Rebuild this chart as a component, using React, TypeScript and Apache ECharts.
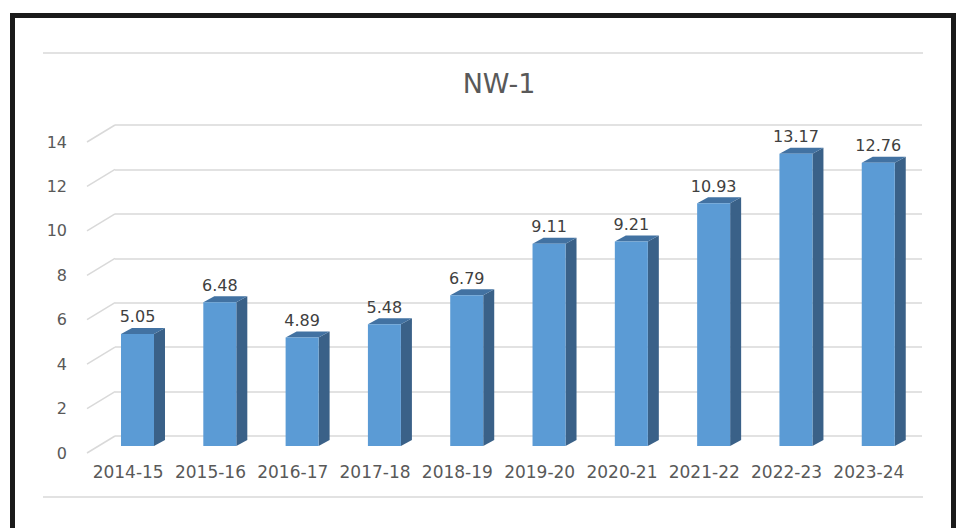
import React, { useEffect, useRef } from "react";
import * as echarts from "echarts";

const chartTitle = "NW-1";
const categories = [
  "2014-15",
  "2015-16",
  "2016-17",
  "2017-18",
  "2018-19",
  "2019-20",
  "2020-21",
  "2021-22",
  "2022-23",
  "2023-24",
];
const values = [5.05, 6.48, 4.89, 5.48, 6.79, 9.11, 9.21, 10.93, 13.17, 12.76];
const yTicks = [0, 2, 4, 6, 8, 10, 12, 14];

export default function App() {
  const ref = useRef<HTMLDivElement>(null);

  useEffect(() => {
    if (!ref.current) return;
    const chart = echarts.init(ref.current, null, { renderer: "svg" });
    const font = "'DejaVu Sans', 'Open Sans', sans-serif";
    const DX = 11;
    const DY = 6;
    const BAR_W = 33;
    const gridColor = "#d9d9d9";

    chart.setOption({
      animation: false,
      backgroundColor: "#ffffff",
      graphic: [
        {
          type: "rect",
          shape: { x: 12.5, y: 15.5, width: 941, height: 600 },
          style: { fill: "none", stroke: "#1a1a1a", lineWidth: 5 },
          silent: true,
          z: 100,
        },
        {
          type: "line",
          shape: { x1: 43, y1: 53, x2: 923, y2: 53 },
          style: { stroke: gridColor, lineWidth: 1.5 },
          silent: true,
        },
        {
          type: "line",
          shape: { x1: 43, y1: 497, x2: 923, y2: 497 },
          style: { stroke: gridColor, lineWidth: 1.5 },
          silent: true,
        },
        {
          type: "text",
          style: {
            text: chartTitle,
            x: 499,
            y: 83,
            align: "center",
            verticalAlign: "middle",
            fontSize: 27,
            fontFamily: font,
            fill: "#595959",
          },
          silent: true,
        },
      ],
      grid: [
        { left: 115, right: 36, top: 125, bottom: 92 },
        { left: 96.35, right: 38.6, top: 135.2, bottom: 82 },
        { left: 87, right: 48, top: 142, bottom: 75 },
      ],
      xAxis: [
        { gridIndex: 0, type: "category", data: categories, show: false },
        { gridIndex: 1, type: "category", data: categories, show: false },
        {
          gridIndex: 2,
          type: "category",
          data: categories,
          axisLine: { show: false },
          axisTick: { show: false },
          splitLine: { show: false },
          axisLabel: {
            margin: 10,
            fontSize: 17,
            color: "#595959",
            fontFamily: font,
            interval: 0,
          },
        },
      ],
      yAxis: [
        {
          gridIndex: 0,
          type: "value",
          min: 0,
          max: 14,
          interval: 2,
          axisLabel: { show: false },
          axisLine: { show: false },
          axisTick: { show: false },
          splitLine: { show: true, lineStyle: { color: gridColor, width: 1.5 } },
        },
        {
          gridIndex: 1,
          type: "value",
          min: 0,
          max: 14,
          interval: 2,
          show: false,
          splitLine: { show: false },
        },
        {
          gridIndex: 2,
          type: "value",
          min: 0,
          max: 14,
          interval: 2,
          axisLine: { show: false },
          axisTick: { show: false },
          splitLine: { show: false },
          axisLabel: {
            margin: 20,
            fontSize: 16,
            color: "#595959",
            fontFamily: font,
          },
        },
      ],
      series: [
        {
          type: "custom",
          xAxisIndex: 0,
          yAxisIndex: 0,
          silent: true,
          data: yTicks.map((t) => [0, t]),
          renderItem: (params: any, api: any) => {
            const p = api.coord([0, api.value(1)]);
            const x = params.coordSys.x;
            return {
              type: "line",
              shape: { x1: x, y1: p[1], x2: x - 28, y2: p[1] + 17 },
              style: { stroke: gridColor, lineWidth: 1.5 },
            };
          },
        },
        {
          type: "custom",
          xAxisIndex: 1,
          yAxisIndex: 1,
          data: values.map((v, i) => [i, v]),
          renderItem: (params: any, api: any) => {
            const idx = api.value(0);
            const v = api.value(1);
            const top = api.coord([idx, v]);
            const base = api.coord([idx, 0]);
            const x0 = top[0] - BAR_W / 2;
            const x1 = top[0] + BAR_W / 2;
            const yt = top[1];
            const yb = base[1];
            return {
              type: "group",
              children: [
                {
                  type: "polygon",
                  shape: {
                    points: [
                      [x1, yt],
                      [x1 + DX, yt - DY],
                      [x1 + DX, yb - DY],
                      [x1, yb],
                    ],
                  },
                  style: { fill: "#3a6188" },
                },
                {
                  type: "polygon",
                  shape: {
                    points: [
                      [x0, yt],
                      [x0 + DX, yt - DY],
                      [x1 + DX, yt - DY],
                      [x1, yt],
                    ],
                  },
                  style: { fill: "#4272a2" },
                },
                {
                  type: "rect",
                  shape: { x: x0, y: yt, width: BAR_W, height: yb - yt },
                  style: { fill: "#5b9bd5" },
                },
                {
                  type: "text",
                  style: {
                    text: v.toFixed(2),
                    x: top[0],
                    y: yt - 17,
                    align: "center",
                    verticalAlign: "middle",
                    fontSize: 16,
                    fontFamily: font,
                    fill: "#404040",
                  },
                },
              ],
            };
          },
        },
      ],
    });

    return () => {
      chart.dispose();
    };
  }, []);

  return (
    <div
      ref={ref}
      style={{ position: "absolute", left: 0, top: 0, width: 958, height: 528 }}
    />
  );
}
